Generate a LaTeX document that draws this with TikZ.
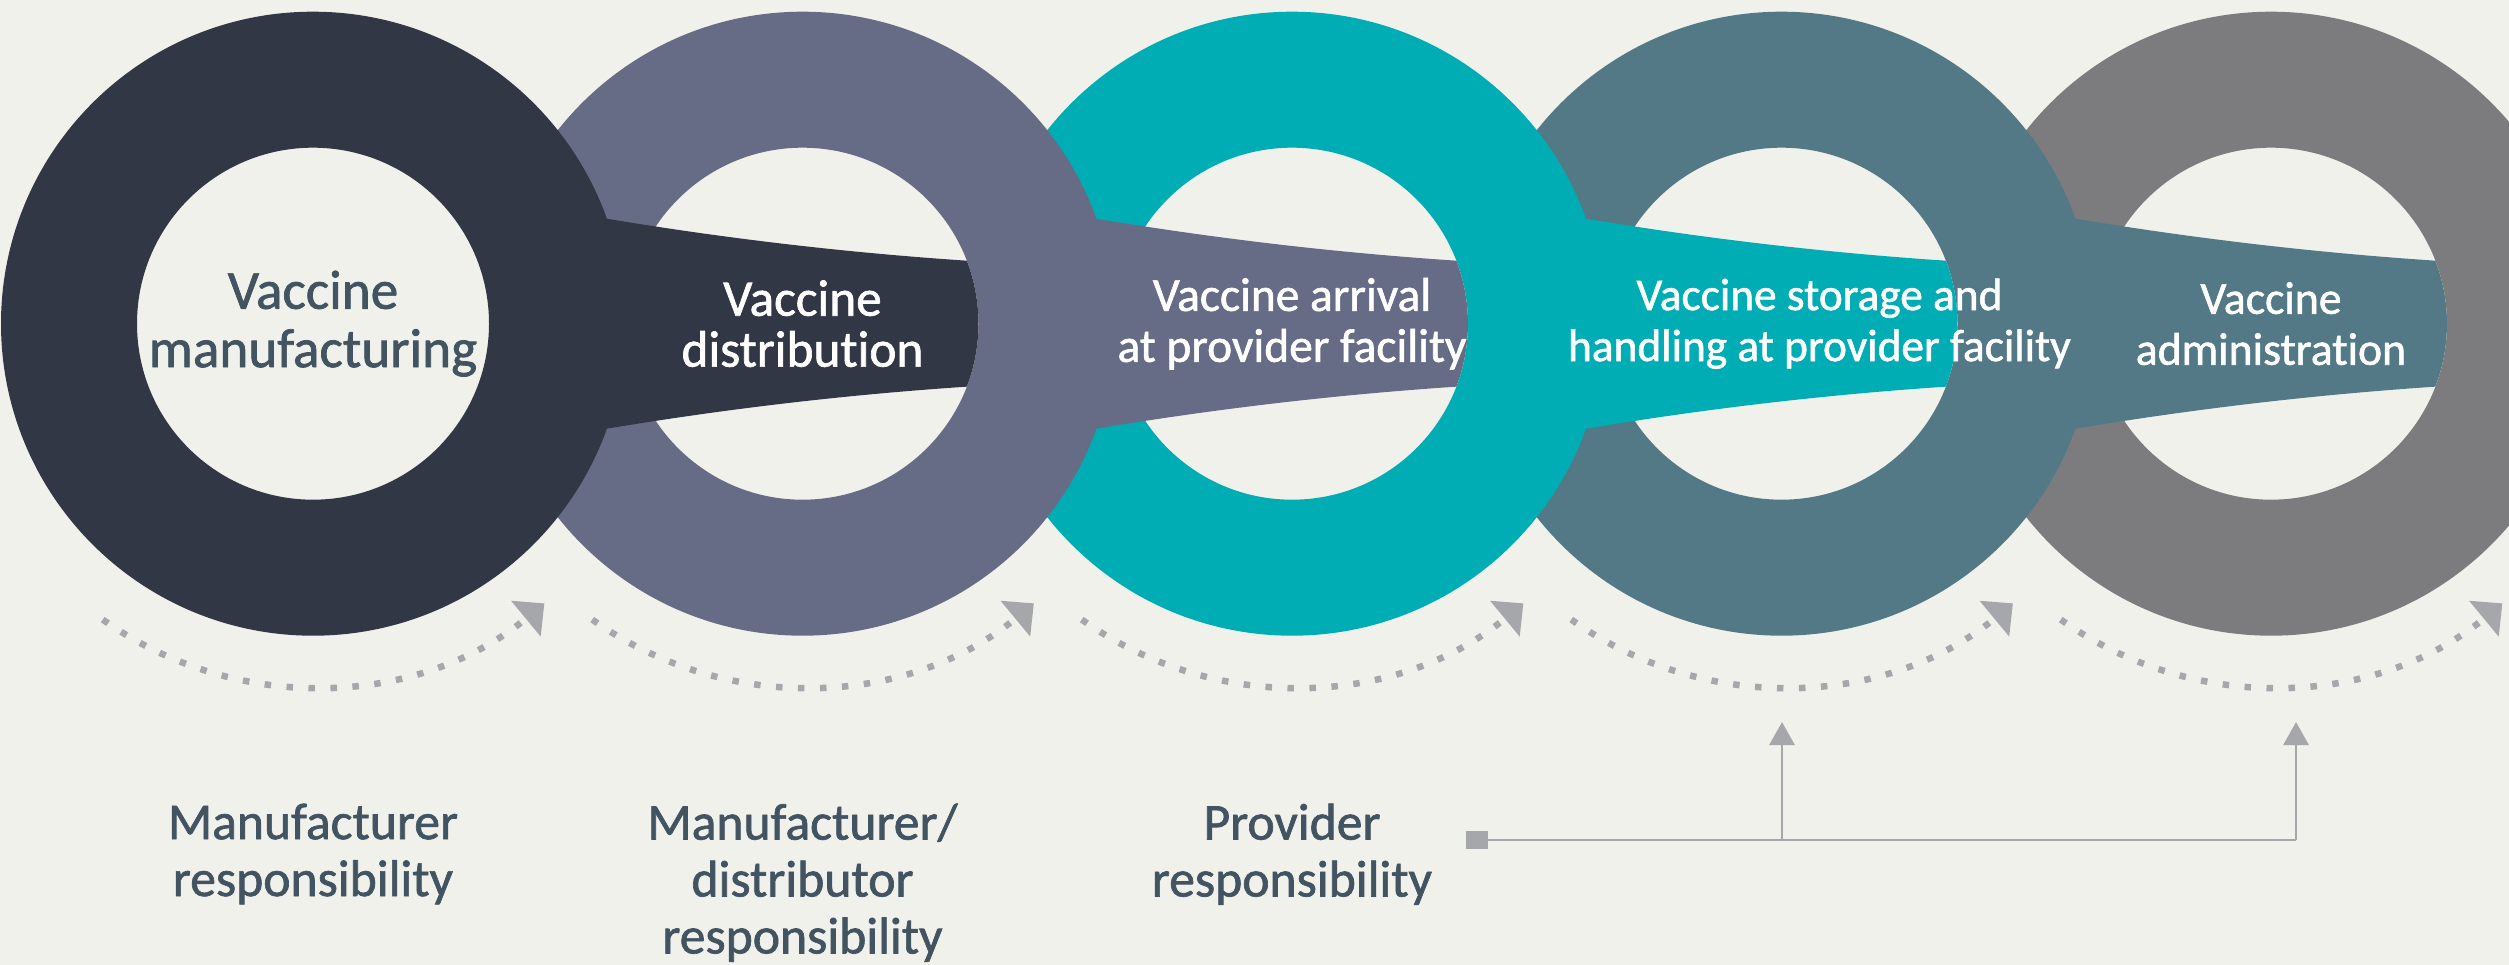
\documentclass[tikz,border=0pt]{standalone}
\usepackage{fontspec}
\setmainfont{Carlito}[Ligatures=NoCommon]
\newfontfamily\labelfont{Carlito}[FakeBold=1.3,Ligatures=NoCommon]
\usepackage{tikz}
\usetikzlibrary{arrows.meta}
\usetikzlibrary{positioning}
\usetikzlibrary{calc}
\definecolor{paper}{HTML}{F1F1EC}
\definecolor{ringA}{HTML}{313744}
\definecolor{ringB}{HTML}{676C86}
\definecolor{ringC}{HTML}{00ADB4}
\definecolor{ringD}{HTML}{537986}
\definecolor{ringE}{HTML}{7C7C7E}
\definecolor{linkgray}{HTML}{A6A7AB}
\definecolor{labelink}{HTML}{425361}
\newcommand{\outerR}{3.12}
\newcommand{\innerR}{1.76}
\tikzset{
	steplabel/.style={text=white, align=center, inner sep=0pt,
		font=\labelfont\fontsize{#1}{14.5}\selectfont},
	holelabel/.style={text=labelink, align=center, inner sep=0pt,
		font=\labelfont\fontsize{15.7}{16.6}\selectfont},
	dutylabel/.style={text=labelink, align=center, inner sep=0pt, anchor=north,
		font=\labelfont\fontsize{14.7}{16.2}\selectfont},
	handover/.style={draw=linkgray, line width=0.065cm,
		dash pattern=on 0.065cm off 0.155cm, -{Triangle[length=0.24cm,width=0.45cm]}},
	feed/.style={draw=linkgray, line width=0.028cm},
	feedarrow/.style={draw=linkgray, line width=0.028cm,
		-{Triangle[length=0.23cm,width=0.25cm]}},
	handbox/.style={fill=linkgray, minimum width=0.22cm, minimum height=0.18cm, inner sep=0pt},
}

\begin{document}
\begin{tikzpicture}
	\useasboundingbox (0,0) rectangle (25.09,-9.65);
	\fill[paper] (0,0) rectangle (25.09,-9.65);
	\clip (0,0) rectangle (25.09,-9.65);
	% rings from back to front, each with the band into the next hole
	\foreach \i/\x/\col in {5/22.71/ringE,4/17.815/ringD,3/12.92/ringC,2/8.025/ringB,1/3.13/ringA}{
		\coordinate (c\i) at (\x,-3.237);
		\ifnum\i<5
			\fill[\col] ($(c\i)+(2.5,1.05)$) -- ++(0.438,0)
				.. controls +(1.2,-0.2) and +(-1.2,0.08) .. ($(c\i)+(6.538,0.63)$)
				arc[start angle=20.97, end angle=-20.97, radius=\innerR]
				.. controls +(-1.2,-0.08) and +(1.2,0.2) .. ($(c\i)+(2.938,-1.05)$)
				-- ++(-0.438,0) -- cycle;
		\fi
		\fill[\col, even odd rule] (c\i) circle (\outerR) (c\i) circle (\innerR);
		\draw[handover] ($(c\i)+(234.6:3.63)$) arc[start angle=234.6, end angle=309.6, radius=3.63];
	}
	%
	\node[holelabel] (make) at (c1) {Vaccine\\manufacturing};
	\node[steplabel=14.6] (ship) at (c2) {Vaccine\\distribution};
	\node[steplabel=13.5] (arrive) at (c3) {Vaccine arrival\\at provider facility};
	\node[steplabel=12.9] (store) at ($(c4)+(0.38,0)$) {Vaccine storage and\\handling at provider facility};
	\node[steplabel=13.0] (give) at (c5) {Vaccine\\administration};
	%
	\node[dutylabel] (makerduty) at (3.13,-8.03) {Manufacturer\\responsibility};
	\node[dutylabel] (shipduty) at (8.025,-8.03) {Manufacturer/\\distributor\\responsibility};
	\node[dutylabel] (providerduty) at (12.92,-8.03) {Provider\\responsibility};
	%
	\node[handbox] (hand) at (14.77,-8.40) {};
	\coordinate (j4) at (17.82,-8.40);
	\coordinate (j5) at (22.96,-8.40);
	\coordinate (t4) at (17.82,-7.22);
	\coordinate (t5) at (22.96,-7.22);
	\draw[feed] (hand.center) -- (j5);
	\draw[feedarrow] (j4) -- (t4);
	\draw[feedarrow] (j5) -- (t5);
\end{tikzpicture}
\end{document}
